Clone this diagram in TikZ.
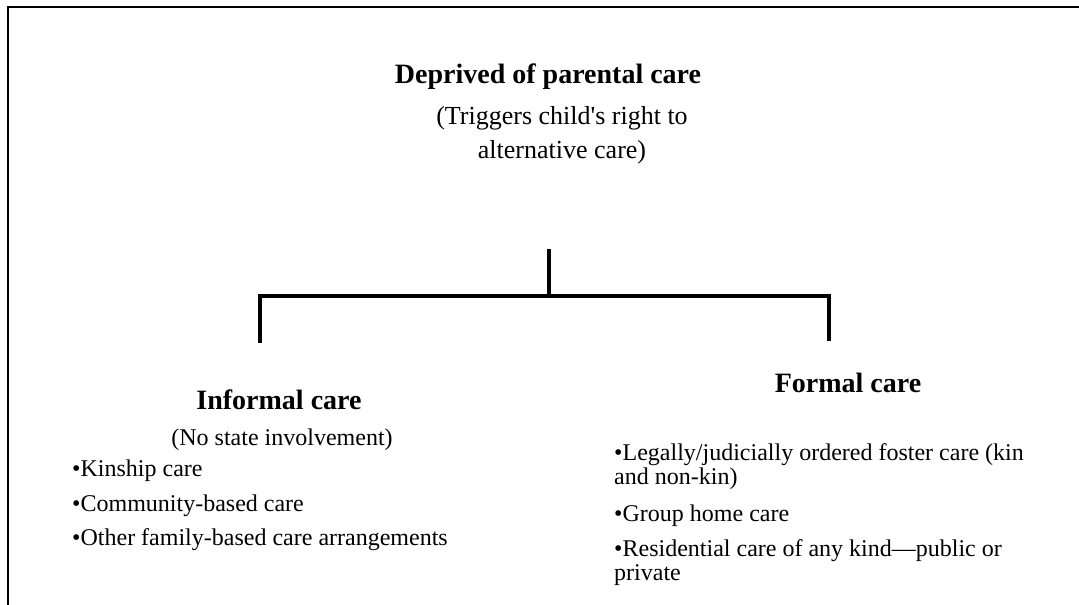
\documentclass[tikz,border=0pt]{standalone}
\usepackage{fontspec}
\setmainfont{Liberation Serif}
\usetikzlibrary{positioning}

\tikzset{
  head/.style={font=\fontsize{28}{32}\selectfont\bfseries, inner sep=0pt},
  note/.style={font=\fontsize{24}{34}\selectfont, inner sep=0pt, align=center},
  item/.style={font=\fontsize{24}{24}\selectfont, inner sep=0pt, anchor=west, align=left},
  bracket/.style={line width=4pt}
}

\begin{document}
\begin{tikzpicture}[x=1pt,y=-1pt]
    \useasboundingbox (0,0) rectangle (1079,605);
    \draw[line width=2.5pt] (1079,7) -- (8,7) -- (8,605);

    % top
    \node[head] (deprived) at (548,77) {Deprived of parental care};
    \node[note, font=\fontsize{26}{34}\selectfont] (triggers) at (562,135) {(Triggers child\textquotesingle s right to\\alternative care)};

    % bracket
    \coordinate (stem) at (549,249);
    \coordinate (hub) at (549,296);
    \coordinate (leftleg) at (260,343);
    \coordinate (rightleg) at (829,341);
    \draw[bracket] (stem) -- (hub);
    \draw[bracket] (hub) -| (leftleg);
    \draw[bracket] (hub) -| (rightleg);

    % informal
    \node[head] (informal) at (279,400) {Informal care};
    \node[note] (nostate) at (282,440) {(No state involvement)};
    \node[item] (kinship) at (72,471) {\textbullet Kinship care};
    \node[item] (community) at (72,506) {\textbullet Community-based care};
    \node[item] (otherfam) at (72,540) {\textbullet Other family-based care arrangements};

    % formal
    \node[head] (formal) at (848,383) {Formal care};
    \node[item] (legally) at (614,467) {\textbullet Legally/judicially ordered foster care (kin\\and non-kin)};
    \node[item] (grouphome) at (614,516) {\textbullet Group home care};
    \node[item] (residential) at (614,563) {\textbullet Residential care of any kind---public or\\private};
\end{tikzpicture}
\end{document}
